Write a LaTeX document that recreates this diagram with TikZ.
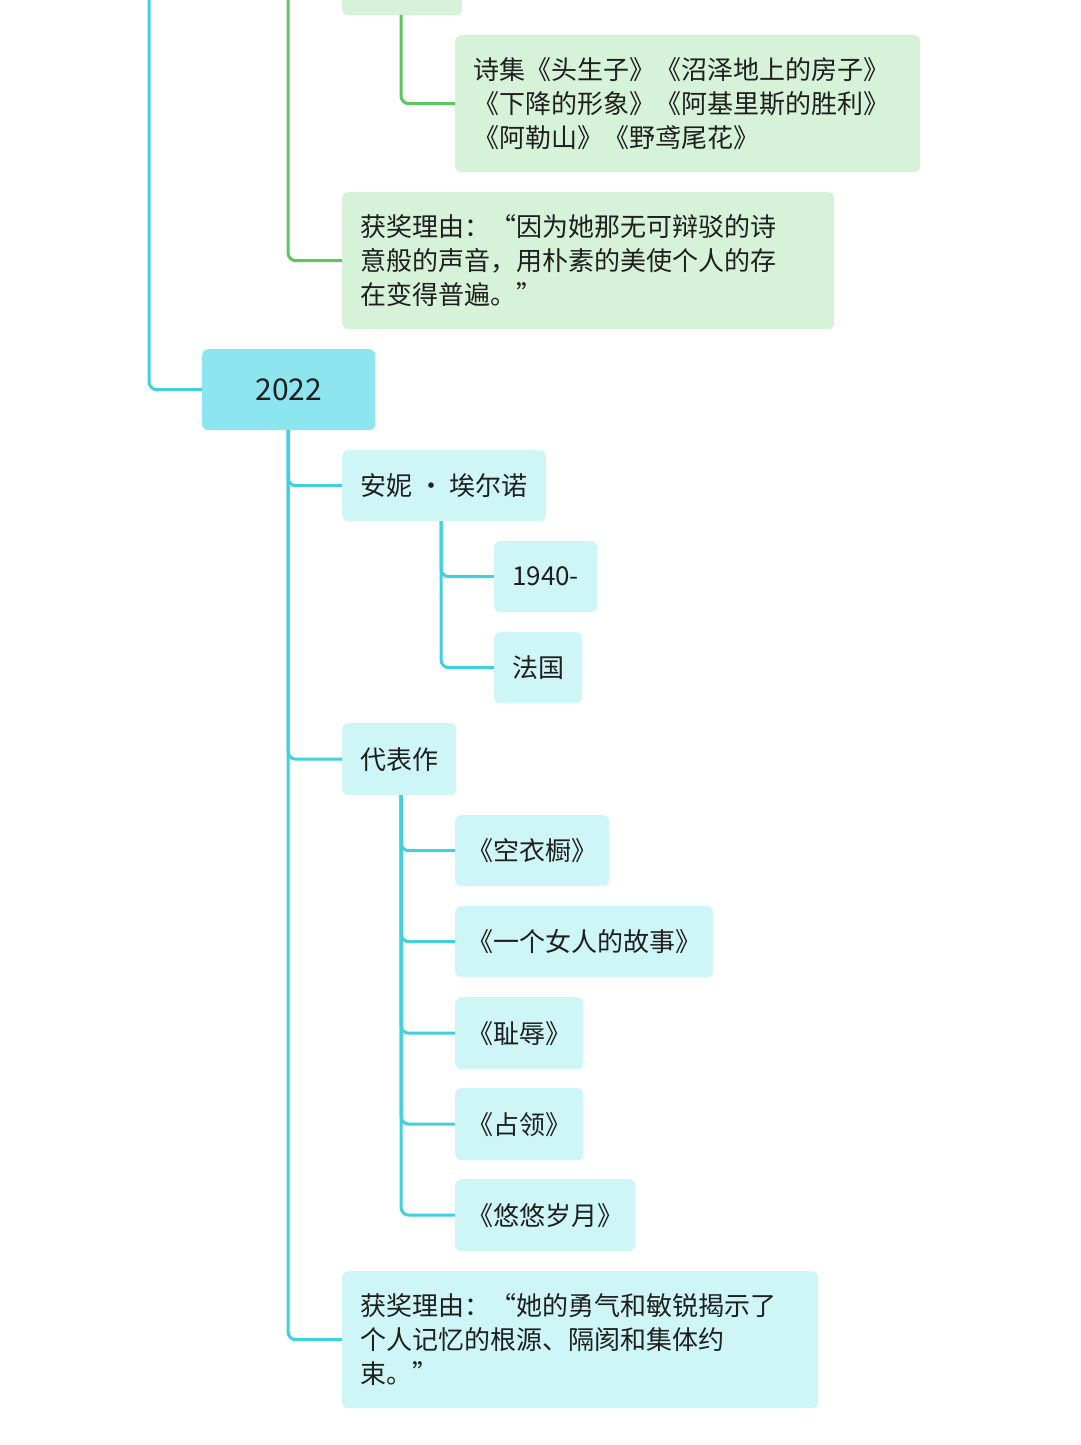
\documentclass[tikz,border=0pt]{standalone}
\usepackage{fontspec}
\setmainfont{Noto Sans CJK SC}
\begin{document}
\begin{tikzpicture}[x=1pt,y=-1pt,
  box/.style={anchor=north west,rounded corners=6,inner xsep=18,inner ysep=0,align=left,text=black!88,font=\fontsize{26}{34}\selectfont},
  gbox/.style={box,fill=green!50!cyan!14!white,fill={rgb,255:red,214;green,243;blue,217}},
  cbox/.style={box,fill={rgb,255:red,207;green,246;blue,247}},
  gl/.style={draw={rgb,255:red,92;green,200;blue,92},line width=3,rounded corners=8},
  cl/.style={draw={rgb,255:red,64;green,208;blue,222},line width=3,rounded corners=8}]
\useasboundingbox (0,0) rectangle (1080,1445);
% green part
\node[gbox,minimum width=120,minimum height=30] (top) at (342,-15) {};
\node[gbox,text width=429,minimum height=137] (poem) at (455,35) {诗集《头生子》《沼泽地上的房子》\\《下降的形象》《阿基里斯的胜利》\\《阿勒山》《野鸢尾花》};
\node[gbox,text width=456,minimum height=137] (r1) at (342,192) {获奖理由：“因为她那无可辩驳的诗\\意般的声音，用朴素的美使个人的存\\在变得普遍。”};
\coordinate (gtop) at (288,0);
\coordinate (ptop) at (401,15);
\draw[gl] (gtop) |- (r1.west);
\draw[gl] (ptop) |- (poem.west);
% 2022
\node[box,fill={rgb,255:red,141;green,229;blue,240},minimum width=173,minimum height=81,font=\fontsize{30}{34}\selectfont,align=center,inner xsep=0] (y) at (202,349) {2022};
\coordinate (ctop) at (149,0);
\draw[cl] (ctop) |- (y.west);
\node[cbox,minimum height=71] (anne) at (342,450) {安妮 · 埃尔诺};
\node[cbox,minimum height=71] (b1940) at (494,541) {1940-};
\node[cbox,minimum height=71] (fr) at (494,632) {法国};
\node[cbox,minimum height=72] (rep) at (342,723) {代表作};
\node[cbox,minimum height=71,inner xsep=12] (w1) at (455,815) {《空衣橱》};
\node[cbox,minimum height=71,inner xsep=12] (w2) at (455,906) {《一个女人的故事》};
\node[cbox,minimum height=72,inner xsep=12] (w3) at (455,997) {《耻辱》};
\node[cbox,minimum height=72,inner xsep=12] (w4) at (455,1088) {《占领》};
\node[cbox,minimum height=72,inner xsep=12] (w5) at (455,1179) {《悠悠岁月》};
\node[cbox,text width=440,minimum height=137] (r2) at (342,1271) {获奖理由：“她的勇气和敏锐揭示了\\个人记忆的根源、隔阂和集体约\\束。”};
\coordinate (yb) at (288,430);
\coordinate (ab) at (441,521);
\coordinate (rb) at (401,795);
\foreach \n in {anne,rep,r2} \draw[cl] (yb) |- (\n.west);
\foreach \n in {b1940,fr} \draw[cl] (ab) |- (\n.west);
\foreach \n in {w1,w2,w3,w4,w5} \draw[cl] (rb) |- (\n.west);
\end{tikzpicture}
\end{document}
